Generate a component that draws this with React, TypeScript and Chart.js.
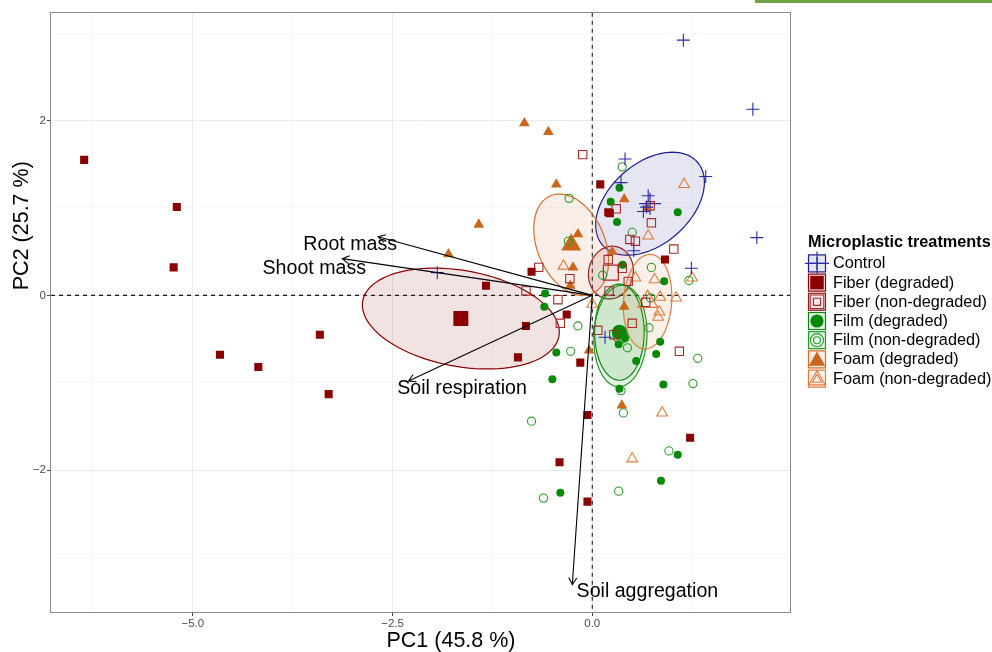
import React, { useEffect, useRef } from "react";
import { Chart, registerables } from "chart.js";

Chart.register(...registerables);

// ---------------- data ----------------
const groupNames = [
  "Control",
  "Fiber (degraded)",
  "Fiber (non-degraded)",
  "Film (degraded)",
  "Film (non-degraded)",
  "Foam (degraded)",
  "Foam (non-degraded)",
];

const controlPC1 = [1.14, 2.01, 0.41, 1.42, 0.36, 0.7, 0.68, 0.64, 0.52, 1.24, 2.06, -1.94, 0.16];
const controlPC2 = [2.92, 2.13, 1.56, 1.36, 1.29, 1.14, 1.01, 0.96, 0.51, 0.31, 0.66, 0.26, -0.48];

const fiberDegPC1 = [-6.36, -5.2, -5.24, -4.66, -4.18, -3.41, -3.3, -1.33, -0.83, -0.93, -0.32, -0.15, -0.06, -0.76, 0.1, 0.2, 0.22, 0.91, -0.41, -0.06, 1.225];
const fiberDegPC2 = [1.55, 1.01, 0.32, -0.68, -0.82, -0.45, -1.13, 0.11, -0.35, -0.71, -0.22, -0.77, -1.37, 0.27, 1.27, 0.95, 0.94, 0.41, -1.91, -2.36, -1.63];

const fiberNonPC1 = [-0.67, -0.83, -0.43, -0.28, -0.4, -0.12, 0.3, 0.74, 0.725, 0.47, 0.54, 1.02, 0.2, 0.375, 0.45, 0.21, 0.67, 0.5, 0.07, 0.27, 1.09];
const fiberNonPC2 = [0.32, 0.05, -0.05, 0.19, -0.32, 1.61, 0.99, 0.83, 1.025, 0.64, 0.62, 0.53, 0.41, 0.31, 0.16, 0.05, -0.08, -0.32, -0.4, -0.45, -0.64];

const filmDegPC1 = [0.34, 0.23, 0.31, 1.07, 0.38, 0.9, -0.59, -0.6, -0.45, -0.5, 0.41, 0.33, 0.85, 0.8, 0.55, 0.89, 0.34, 1.07, 0.86, -0.4];
const filmDegPC2 = [1.23, 1.07, 0.84, 0.95, 0.35, 0.16, 0.02, -0.13, -0.655, -0.96, -0.49, -0.56, -0.53, -0.67, -0.75, -1.02, -1.07, -1.825, -2.12, -2.26];

const filmNonPC1 = [0.375, 0.5, 0.13, 0.74, 1.21, -0.29, -0.3, -0.18, 0.73, -0.27, 0.71, 0.44, 1.32, 1.26, 0.36, 0.39, -0.76, 0.96, -0.61, 0.33];
const filmNonPC2 = [1.47, 0.72, 0.23, 0.32, 0.17, 1.11, 0.62, -0.35, -0.03, -0.64, -0.37, -0.6, -0.72, -1.01, -1.09, -1.345, -1.44, -1.78, -2.32, -2.24];

const foamDegPC1 = [-0.85, -0.55, -0.45, -1.42, -1.8, -0.18, -0.24, -0.275, 0.4, 0.69, 0.25, 0.4, -0.04, 0.37];
const foamDegPC2 = [1.97, 1.87, 1.27, 0.81, 0.47, 0.7, 0.32, 0.11, 1.1, 1.0, 0.5, -0.13, -0.63, -1.26];

const foamNonPC1 = [1.15, 0.7, 0.54, 0.78, 1.25, -0.36, 0.0, 0.85, 1.05, 0.84, 0.825, 0.875, 0.5];
const foamNonPC2 = [1.27, 0.68, 0.2, 0.18, 0.2, 0.335, -0.1, -0.02, -0.03, -0.19, -0.25, -1.345, -1.87];

const variableNames = ["Root mass", "Shoot mass", "Soil respiration", "Soil aggregation"];
const loadingPC1 = [-2.68, -3.13, -2.3, -0.25];
const loadingPC2 = [0.67, 0.42, -0.98, -3.31];
const labelPC1 = [-3.03, -3.48, -1.63, 0.69];
const labelPC2 = [0.58, 0.31, -1.07, -3.39];

const xRange = [-6.775, 2.475];
const yRange = [-3.623, 3.234];
const xTicks = [-6.25, -5, -3.75, -2.5, -1.25, 0, 1.25];
const xTickLabels = [-5, -2.5, 0];
const yTicks = [-3, -2, -1, 0, 1, 2, 3];
const yTickLabels = [-2, 0, 2];
const axisTitles = ["PC1 (45.8 %)", "PC2 (25.7 %)"];
const legendTitle = "Microplastic treatments";

// ---------------- styles ----------------
const FONT = '"Liberation Sans", Arial, Helvetica, sans-serif';
type Shape = "cross" | "rect" | "rectOpen" | "circle" | "circleOpen" | "triangle" | "triangleOpen";

const groupXs = [controlPC1, fiberDegPC1, fiberNonPC1, filmDegPC1, filmNonPC1, foamDegPC1, foamNonPC1];
const groupYs = [controlPC2, fiberDegPC2, fiberNonPC2, filmDegPC2, filmNonPC2, foamDegPC2, foamNonPC2];
const groupColors = ["#2a2aa2", "#8b0000", "#a52a2a", "#068a06", "#2c9e2c", "#cd661d", "#e07d3c"];
const lineColors = ["#1c1c92", "#8b0000", "#8f1f1f", "#0a860a", "#1f961f", "#d2702a", "#df7d3c"];
const groupShapes: Shape[] = ["cross", "rect", "rectOpen", "circle", "circleOpen", "triangle", "triangleOpen"];
const smallR = [6.5, 5.7, 5.9, 4, 4.1, 6.2, 6.2];
const bigR = [11, 10.6, 10.6, 7.5, 7.5, 11.5, 11.5];

function mean(a: number[]) {
  return a.reduce((s, v) => s + v, 0) / a.length;
}

function confidenceEllipse(xs: number[], ys: number[], npoint = 100) {
  const n = xs.length;
  const mx = mean(xs);
  const my = mean(ys);
  let sxx = 0, syy = 0, sxy = 0;
  for (let i = 0; i < n; i++) {
    const dx = xs[i] - mx;
    const dy = ys[i] - my;
    sxx += dx * dx;
    syy += dy * dy;
    sxy += dx * dy;
  }
  const k = (n - 1) * n;
  sxx /= k; syy /= k; sxy /= k;
  const t = Math.sqrt(5.991464547);
  const sx = Math.sqrt(sxx);
  const sy = Math.sqrt(syy);
  const r = Math.max(-1, Math.min(1, sxy / (sx * sy)));
  const d = Math.acos(r);
  const pts: { x: number; y: number }[] = [];
  for (let j = 0; j < npoint; j++) {
    const a = (2 * Math.PI * j) / (npoint - 1);
    pts.push({ x: mx + t * sx * Math.cos(a + d / 2), y: my + t * sy * Math.cos(a - d / 2) });
  }
  return pts;
}

function hexA(hex: string, a: number) {
  const n = parseInt(hex.slice(1), 16);
  return `rgba(${(n >> 16) & 255},${(n >> 8) & 255},${n & 255},${a})`;
}

function isOpen(s: Shape) {
  return s === "rectOpen" || s === "circleOpen" || s === "triangleOpen" || s === "cross";
}

function chartStyle(s: Shape) {
  if (s === "cross") return "cross";
  if (s === "rect" || s === "rectOpen") return "rect";
  if (s === "circle" || s === "circleOpen") return "circle";
  return "triangle";
}

function drawShape(ctx: CanvasRenderingContext2D, s: Shape, x: number, y: number, r: number, color: string) {
  ctx.save();
  ctx.fillStyle = color;
  ctx.strokeStyle = color;
  ctx.lineWidth = 1.1;
  ctx.beginPath();
  if (s === "cross") {
    ctx.moveTo(x - r, y); ctx.lineTo(x + r, y);
    ctx.moveTo(x, y - r); ctx.lineTo(x, y + r);
    ctx.stroke();
  } else if (s === "rect" || s === "rectOpen") {
    const h = Math.SQRT1_2 * r;
    ctx.rect(x - h, y - h, 2 * h, 2 * h);
    s === "rect" ? ctx.fill() : ctx.stroke();
  } else if (s === "circle" || s === "circleOpen") {
    ctx.arc(x, y, r, 0, Math.PI * 2);
    s === "circle" ? ctx.fill() : ctx.stroke();
  } else {
    ctx.moveTo(x, y - r);
    ctx.lineTo(x + 0.866 * r, y + 0.5 * r);
    ctx.lineTo(x - 0.866 * r, y + 0.5 * r);
    ctx.closePath();
    s === "triangle" ? ctx.fill() : ctx.stroke();
  }
  ctx.restore();
}

const near = (a: number, list: number[]) => list.some((v) => Math.abs(v - a) < 1e-9);
const minus = (s: string) => s.replace("-", "\u2212");

const biplotPlugin = {
  id: "biplot",
  beforeDatasetsDraw(chart: any) {
    const { ctx, chartArea: a, scales } = chart;
    const xs = scales.x, ys = scales.y;
    ctx.save();
    ctx.beginPath();
    ctx.rect(a.left, a.top, a.right - a.left, a.bottom - a.top);
    ctx.clip();
    const x0 = xs.getPixelForValue(0);
    const y0 = ys.getPixelForValue(0);
    ctx.setLineDash([4, 4]);
    ctx.strokeStyle = "#1a1a1a";
    ctx.lineWidth = 1.1;
    ctx.beginPath();
    ctx.moveTo(x0, a.top); ctx.lineTo(x0, a.bottom);
    ctx.moveTo(a.left, y0); ctx.lineTo(a.right, y0);
    ctx.stroke();
    ctx.setLineDash([]);
    groupXs.forEach((gx, gi) => {
      const pts = confidenceEllipse(gx, groupYs[gi]);
      ctx.beginPath();
      pts.forEach((p, i) => {
        const px = xs.getPixelForValue(p.x);
        const py = ys.getPixelForValue(p.y);
        if (i) ctx.lineTo(px, py); else ctx.moveTo(px, py);
      });
      ctx.closePath();
      ctx.fillStyle = hexA(lineColors[gi], 0.11);
      ctx.fill();
      ctx.strokeStyle = lineColors[gi];
      ctx.lineWidth = 1.2;
      ctx.stroke();
    });
    ctx.restore();
  },
  afterDatasetsDraw(chart: any) {
    const { ctx, chartArea: a, scales } = chart;
    const xs = scales.x, ys = scales.y;
    const x0 = xs.getPixelForValue(0);
    const y0 = ys.getPixelForValue(0);
    ctx.save();
    ctx.strokeStyle = "#000";
    ctx.lineWidth = 1.1;
    variableNames.forEach((name, i) => {
      const tx = xs.getPixelForValue(loadingPC1[i]);
      const ty = ys.getPixelForValue(loadingPC2[i]);
      ctx.beginPath();
      ctx.moveTo(x0, y0);
      ctx.lineTo(tx, ty);
      const ang = Math.atan2(ty - y0, tx - x0);
      const L = 8;
      ctx.moveTo(tx - L * Math.cos(ang - Math.PI / 6), ty - L * Math.sin(ang - Math.PI / 6));
      ctx.lineTo(tx, ty);
      ctx.lineTo(tx - L * Math.cos(ang + Math.PI / 6), ty - L * Math.sin(ang + Math.PI / 6));
      ctx.stroke();
    });
    ctx.fillStyle = "#000";
    ctx.font = `19.6px ${FONT}`;
    ctx.textAlign = "center";
    ctx.textBaseline = "middle";
    variableNames.forEach((name, i) => {
      ctx.fillText(name, xs.getPixelForValue(labelPC1[i]), ys.getPixelForValue(labelPC2[i]));
    });
    ctx.strokeStyle = "#8a8a8a";
    ctx.lineWidth = 1;
    ctx.strokeRect(Math.round(a.left) - 0.5, Math.round(a.top) - 0.5, Math.round(a.right - a.left) + 1, Math.round(a.bottom - a.top) + 1);
    ctx.restore();
  },
  afterDraw(chart: any) {
    const { ctx, chartArea: a } = chart;
    ctx.save();
    ctx.fillStyle = "#000";
    ctx.font = `21.5px ${FONT}`;
    ctx.textAlign = "center";
    ctx.textBaseline = "middle";
    ctx.fillText(axisTitles[0], a.left + 400, a.bottom + 29);
    ctx.save();
    ctx.translate(a.left - 29, a.top + 213);
    ctx.rotate(-Math.PI / 2);
    ctx.fillText(axisTitles[1], 0, 0);
    ctx.restore();

    // legend
    const lx = a.right + 18;
    const key = 18;
    ctx.textAlign = "left";
    ctx.font = `bold 16.3px ${FONT}`;
    ctx.fillText(legendTitle, lx, a.top + 230);
    ctx.font = `16.3px ${FONT}`;
    groupNames.forEach((name, i) => {
      const cy = a.top + 250.7 + i * 19.2;
      const cx = lx + key / 2;
      ctx.fillStyle = "#fff";
      ctx.fillRect(lx, cy - key / 2, key, key);
      ctx.fillStyle = hexA(lineColors[i], 0.11);
      ctx.fillRect(lx, cy - key / 2, key, key);
      ctx.strokeStyle = lineColors[i];
      ctx.lineWidth = 1.2;
      ctx.strokeRect(lx + 0.5, cy - key / 2 + 0.5, key - 1, key - 1);
      const s = groupShapes[i];
      const bigLegR = s === "cross" ? 12 : s === "rect" || s === "rectOpen" ? 9.6 : s === "circle" || s === "circleOpen" ? 6.6 : 9.5;
      const yOff = s === "triangle" || s === "triangleOpen" ? 1.5 : 0;
      drawShape(ctx, s, cx, cy + yOff, bigLegR, groupColors[i]);
      drawShape(ctx, s, cx, cy + (yOff ? 1 : 0), smallR[i] * (s === "cross" ? 1 : 0.85), groupColors[i]);
      ctx.fillStyle = "#000";
      ctx.fillText(name, lx + 25, cy + 0.5);
    });
    ctx.restore();
  },
};

export default function App() {
  const ref = useRef<HTMLCanvasElement | null>(null);
  useEffect(() => {
    if (!ref.current) return;
    const pointSets = groupXs.map((gx, gi) => ({
      type: "scatter" as const,
      label: groupNames[gi],
      data: gx.map((v, i) => ({ x: v, y: groupYs[gi][i] })),
      pointStyle: chartStyle(groupShapes[gi]),
      pointRadius: smallR[gi],
      pointHoverRadius: smallR[gi],
      pointBackgroundColor: isOpen(groupShapes[gi]) ? "rgba(0,0,0,0)" : groupColors[gi],
      pointBorderColor: groupColors[gi],
      pointBorderWidth: isOpen(groupShapes[gi]) ? 1.1 : 0,
      showLine: false,
    }));
    const meanSets = groupXs.map((gx, gi) => ({
      type: "scatter" as const,
      label: groupNames[gi] + " mean",
      data: [{ x: mean(gx), y: mean(groupYs[gi]) }],
      pointStyle: chartStyle(groupShapes[gi]),
      pointRadius: bigR[gi],
      pointHoverRadius: bigR[gi],
      pointBackgroundColor: isOpen(groupShapes[gi]) ? "rgba(0,0,0,0)" : groupColors[gi],
      pointBorderColor: groupColors[gi],
      pointBorderWidth: isOpen(groupShapes[gi]) ? 1.2 : 0,
      showLine: false,
    }));
    const tickFont = { family: FONT, size: 11.5 };
    const chart = new Chart(ref.current, {
      type: "scatter",
      data: { datasets: [...pointSets, ...meanSets] as any },
      options: {
        animation: false,
        responsive: false,
        maintainAspectRatio: false,
        devicePixelRatio: 1,
        events: [],
        layout: { padding: { left: 21, right: 202, top: 12, bottom: 20 } },
        plugins: { legend: { display: false }, tooltip: { enabled: false } },
        scales: {
          x: {
            type: "linear",
            min: xRange[0],
            max: xRange[1],
            bounds: "data",
            afterBuildTicks: (s: any) => {
              s.ticks = xTicks.map((v) => ({ value: v }));
            },
            afterFit: (s: any) => {
              s.height = 20;
            },
            ticks: {
              autoSkip: false,
              maxRotation: 0,
              padding: 1,
              color: "#4d4d4d",
              font: tickFont,
              callback: (v: any) => (near(Number(v), xTickLabels) ? minus(Number(v).toFixed(1)) : ""),
            },
            grid: {
              color: (c: any) => (near(c.tick?.value, xTickLabels) ? "#ebebeb" : "#f5f5f5"),
              lineWidth: (c: any) => (near(c.tick?.value, xTickLabels) ? 1 : 0.7),
              drawTicks: true,
              tickLength: 4,
              tickWidth: 1,
              tickColor: (c: any) => (near(c.tick?.value, xTickLabels) ? "#444" : "rgba(0,0,0,0)"),
            },
            border: { display: false },
          },
          y: {
            type: "linear",
            min: yRange[0],
            max: yRange[1],
            bounds: "data",
            afterBuildTicks: (s: any) => {
              s.ticks = yTicks.map((v) => ({ value: v }));
            },
            afterFit: (s: any) => {
              s.width = 30;
            },
            ticks: {
              autoSkip: false,
              padding: 1,
              color: "#4d4d4d",
              font: tickFont,
              callback: (v: any) => (near(Number(v), yTickLabels) ? minus(String(Number(v))) : ""),
            },
            grid: {
              color: (c: any) => (near(c.tick?.value, yTickLabels) ? "#ebebeb" : "#f5f5f5"),
              lineWidth: (c: any) => (near(c.tick?.value, yTickLabels) ? 1 : 0.7),
              drawTicks: true,
              tickLength: 4,
              tickWidth: 1,
              tickColor: (c: any) => (near(c.tick?.value, yTickLabels) ? "#444" : "rgba(0,0,0,0)"),
            },
            border: { display: false },
          },
        },
      } as any,
      plugins: [biplotPlugin],
    });
    return () => chart.destroy();
  }, []);

  return (
    <div style={{ position: "absolute", left: 0, top: 0, width: 992, height: 652, background: "#fff" }}>
      <canvas ref={ref} width={992} height={652} style={{ display: "block", width: 992, height: 652 }} />
      <div style={{ position: "absolute", left: 755, top: 0, width: 237, height: 3, background: "#6ea446" }} />
    </div>
  );
}
